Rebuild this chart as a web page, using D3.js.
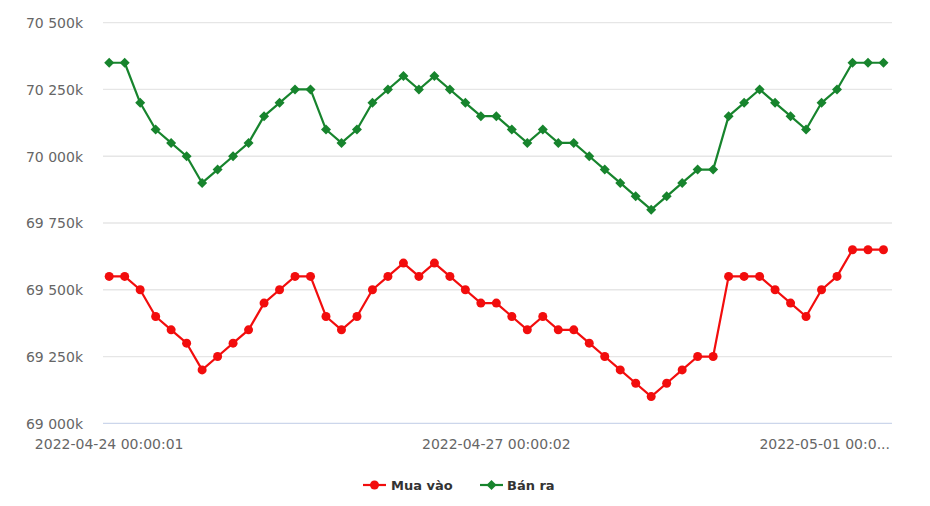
<!DOCTYPE html>
<html>
<head>
<meta charset="utf-8">
<script src="https://cdn.jsdelivr.net/npm/d3@7"></script>
<style>
  html, body { margin: 0; padding: 0; background: #fff; }
  svg { display: block; font-family: "DejaVu Sans", Verdana, sans-serif; }
</style>
</head>
<body>
<svg id="chart" width="930" height="506"></svg>
<script>
// ---- data ----
const categories = [
  "2022-04-24 00:00:01","","","","","","","","","","","","","","","","","","","","","","","","",
  "2022-04-27 00:00:02","","","","","","","","","","","","","","","","","","","","","","","","",
  "2022-05-01 00:00:01"
];
const muaVao = [
  69550, 69550, 69500, 69400, 69350, 69300, 69200, 69250, 69300, 69350,
  69450, 69500, 69550, 69550, 69400, 69350, 69400, 69500, 69550, 69600,
  69550, 69600, 69550, 69500, 69450, 69450, 69400, 69350, 69400, 69350,
  69350, 69300, 69250, 69200, 69150, 69100, 69150, 69200, 69250, 69250,
  69550, 69550, 69550, 69500, 69450, 69400, 69500, 69550, 69650, 69650,
  69650
];
const banRa = [
  70350, 70350, 70200, 70100, 70050, 70000, 69900, 69950, 70000, 70050,
  70150, 70200, 70250, 70250, 70100, 70050, 70100, 70200, 70250, 70300,
  70250, 70300, 70250, 70200, 70150, 70150, 70100, 70050, 70100, 70050,
  70050, 70000, 69950, 69900, 69850, 69800, 69850, 69900, 69950, 69950,
  70150, 70200, 70250, 70200, 70150, 70100, 70200, 70250, 70350, 70350,
  70350
];
const yTicks = [69000, 69250, 69500, 69750, 70000, 70250, 70500];
const seriesNames = ["Mua vào", "Bán ra"];
const seriesColors = ["#f20d0d", "#17842d"];

// ---- layout ----
const svg = d3.select("#chart");
const plot = { left: 103, right: 892, top: 22.7, bottom: 423.3 };

const x = d3.scaleLinear().domain([-0.4, categories.length - 1 + 0.55]).range([plot.left, plot.right]);
const y = d3.scaleLinear().domain([69000, 70500]).range([plot.bottom, plot.top]);

const fmt = v => d3.format(",")(v).replace(/,/g, " ") + "k";

// grid lines
const grid = svg.append("g");
grid.selectAll("line").data(yTicks).join("line")
  .attr("x1", plot.left).attr("x2", plot.right)
  .attr("y1", d => y(d)).attr("y2", d => y(d))
  .attr("stroke", d => d === 69000 ? "#ccd6eb" : "#e6e6e6")
  .attr("stroke-width", 1.3);

// y axis labels
const yAxis = d3.axisLeft(y).tickValues(yTicks).tickSize(0).tickPadding(0)
  .tickFormat(fmt);
const gy = svg.append("g").attr("transform", `translate(83,0)`).call(yAxis);
gy.select(".domain").remove();
gy.selectAll("text").attr("fill", "#666").attr("font-size", "14px")
  .attr("font-family", "DejaVu Sans, sans-serif").attr("dy", "0.35em");

// x axis labels
const labelIdx = categories.map((c, i) => i).filter(i => categories[i] !== "");
const last = labelIdx.length - 1;
svg.append("g").selectAll("text").data(labelIdx).join("text")
  .attr("x", (d, k) => k === last ? 890 : x(d))
  .attr("y", 444)
  .attr("dy", "0.35em")
  .attr("text-anchor", (d, k) => k === last ? "end" : "middle")
  .attr("fill", "#666").attr("font-size", "14px")
  .text((d, k) => k === last ? categories[d].slice(0, 15) + "..." : categories[d]);

// lines
const line = d3.line().x((d, i) => x(i)).y(d => y(d));
[muaVao, banRa].forEach((data, s) => {
  svg.append("path").datum(data)
    .attr("d", line).attr("fill", "none")
    .attr("stroke", seriesColors[s]).attr("stroke-width", 2.2)
    .attr("stroke-linejoin", "round");
});

// markers
svg.append("g").selectAll("circle").data(muaVao).join("circle")
  .attr("cx", (d, i) => x(i)).attr("cy", d => y(d)).attr("r", 4.5)
  .attr("fill", seriesColors[0]);
const diamond = (cx, cy, r) => `M${cx},${cy - r}L${cx + r},${cy}L${cx},${cy + r}L${cx - r},${cy}Z`;
svg.append("g").selectAll("path").data(banRa).join("path")
  .attr("d", (d, i) => diamond(x(i), y(d), 5))
  .attr("fill", seriesColors[1]);

// legend
const legend = svg.append("g");
const legendItems = [
  { name: seriesNames[0], color: seriesColors[0], lx: 363, tx: 391, shape: "circle" },
  { name: seriesNames[1], color: seriesColors[1], lx: 480, tx: 507, shape: "diamond" }
];
legendItems.forEach(it => {
  legend.append("line").attr("x1", it.lx).attr("x2", it.lx + 23)
    .attr("y1", 485).attr("y2", 485).attr("stroke", it.color).attr("stroke-width", 2.2);
  if (it.shape === "circle") {
    legend.append("circle").attr("cx", it.lx + 11.5).attr("cy", 485).attr("r", 4.5).attr("fill", it.color);
  } else {
    legend.append("path").attr("d", diamond(it.lx + 11.5, 485, 5)).attr("fill", it.color);
  }
  legend.append("text").attr("x", it.tx).attr("y", 485).attr("dy", "0.35em")
    .attr("font-size", "13px").attr("font-weight", "bold").attr("fill", "#333")
    .text(it.name);
});
</script>
</body>
</html>
